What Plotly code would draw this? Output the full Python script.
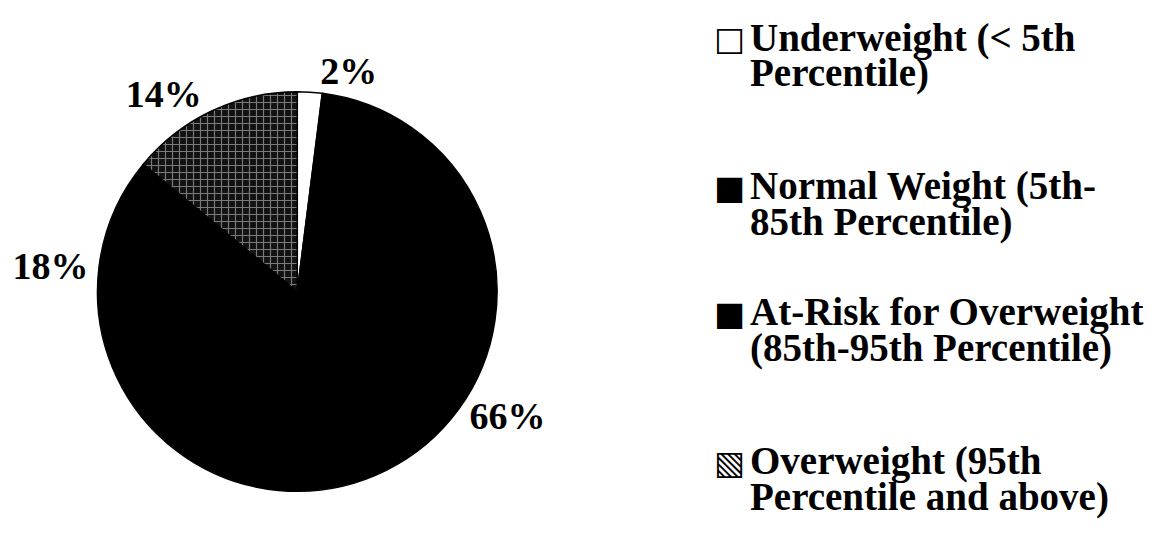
import plotly.graph_objects as go

# ---- data ----
categories = [
    "Underweight (< 5th Percentile)",
    "Normal Weight (5th-85th Percentile)",
    "At-Risk for Overweight (85th-95th Percentile)",
    "Overweight (95th Percentile and above)",
]
values = [2, 66, 18, 14]
legend_lines = [
    ("Underweight (< 5th", "Percentile)"),
    ("Normal Weight (5th-", "85th Percentile)"),
    ("At-Risk for Overweight", "(85th-95th Percentile)"),
    ("Overweight (95th", "Percentile and above)"),
]
legend_symbols = ["\u25A1", "\u25A0", "\u25A0", "\u25A7"]

W, H = 1157, 555
FONT = "Liberation Serif, Times New Roman, serif"

fig = go.Figure()
fig.add_trace(go.Pie(
    labels=categories,
    values=values,
    sort=False,
    direction="clockwise",
    rotation=0,
    texttemplate="%{percent:.0%}",
    textposition="outside",
    textfont=dict(family=FONT, size=38, color="black", weight="bold"),
    marker=dict(
        colors=["white", "black", "black", "#1c1c1c"],
        line=dict(color="black", width=1.5),
        pattern=dict(shape=["", "", "", "+"], fgcolor="#7a7a7a",
                     bgcolor="#121212", size=7, solidity=0.3),
    ),
    domain=dict(x=[83 / W, 485 / W], y=[1 - 487 / H, 1 - 80 / H]),
    showlegend=False,
    hoverinfo="label+percent",
))

# legend drawn as text lines
line_centers = [(30, 65), (178, 214), (304, 340), (453, 489)]
sym_x = 701
text_x = 737
annotations = []
for (l1, l2), sym, (y1, y2) in zip(legend_lines, legend_symbols, line_centers):
    annotations.append(dict(
        x=sym_x / W, y=1 - (y1 + 1) / H, xref="paper", yref="paper",
        xanchor="left", yanchor="middle", showarrow=False,
        text=sym,
        font=dict(family="DejaVu Sans", size=33, color="black"),
    ))
    annotations.append(dict(
        x=text_x / W, y=1 - y1 / H, xref="paper", yref="paper",
        xanchor="left", yanchor="middle", showarrow=False,
        text=l1,
        font=dict(family=FONT, size=39, color="black", weight="bold"),
    ))
    annotations.append(dict(
        x=text_x / W, y=1 - y2 / H, xref="paper", yref="paper",
        xanchor="left", yanchor="middle", showarrow=False,
        text=l2,
        font=dict(family=FONT, size=39, color="black", weight="bold"),
    ))

fig.update_layout(
    width=W, height=H,
    margin=dict(l=0, r=0, t=0, b=0),
    paper_bgcolor="white",
    plot_bgcolor="white",
    annotations=annotations,
)

fig.write_html("out.html")
